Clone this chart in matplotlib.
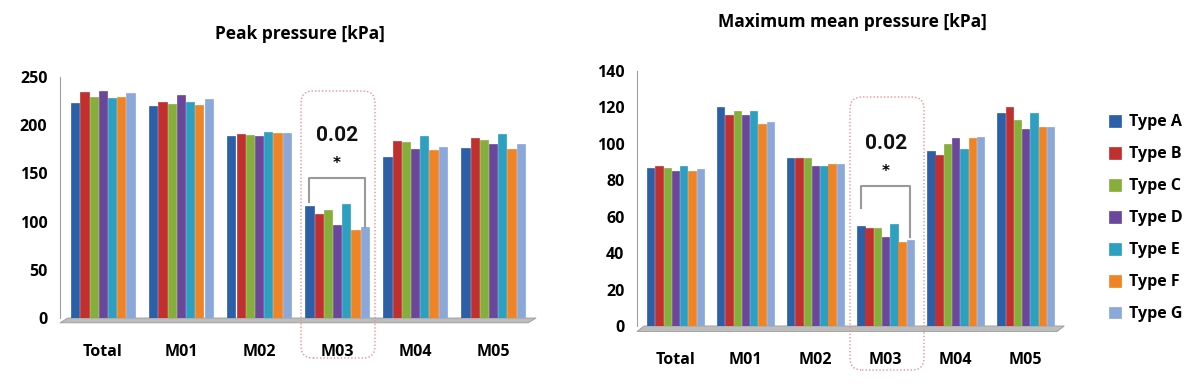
import numpy as np
import matplotlib.pyplot as plt
from matplotlib.patches import Polygon, FancyBboxPatch
from matplotlib.transforms import IdentityTransform

plt.rcParams['font.family'] = ['Open Sans', 'DejaVu Sans']

categories = ['Total', 'M01', 'M02', 'M03', 'M04', 'M05']
types = ['Type A', 'Type B', 'Type C', 'Type D', 'Type E', 'Type F', 'Type G']
colors = ['#2B5FA8', '#C0302F', '#86AE3A', '#6B479B', '#2D9FC0', '#F08424', '#8BA8DB']

# peak pressure [kPa], one list per type, values per category
peak = [
    [223, 220, 189, 116, 167, 176],
    [234, 224, 191, 108, 184, 187],
    [229, 222, 190, 112, 183, 185],
    [236, 231, 189, 96, 175, 180],
    [228, 224, 193, 118, 189, 191],
    [229, 221, 192, 91, 174, 175],
    [233, 227, 192, 94, 177, 180],
]

# maximum mean pressure [kPa]
mean_p = [
    [87, 120, 92, 55, 96, 117],
    [88, 116, 92, 54, 94, 120],
    [87, 118, 92, 54, 100, 113],
    [85, 116, 88, 49, 103, 108],
    [88, 118, 88, 56, 97, 117],
    [85, 111, 89, 46, 103, 109],
    [86, 112, 89, 47, 104, 109],
]

fig = plt.figure(figsize=(12, 3.89), dpi=100)

step = 0.118
width = 0.105
x = np.arange(len(categories))


def draw_panel(ax, data, ymax, yticks, floor_h, title, title_y):
    for i, vals in enumerate(data):
        ax.bar(x + (i - 3) * step, vals, width, color=colors[i],
               edgecolor=colors[i], linewidth=0.5, label=types[i], zorder=3)
    xmin, xmax = -0.55, 5.6
    ax.set_xlim(xmin, xmax)
    ax.set_ylim(0, ymax)
    floor = Polygon([(xmin, -floor_h), (xmin + 0.1, 0), (xmax - 0.05, 0), (xmax - 0.15, -floor_h)],
                    closed=True, facecolor='#BDBDBD', edgecolor='#9A9A9A', lw=0.6,
                    clip_on=False, zorder=2)
    ax.add_patch(floor)
    for s in ['top', 'right', 'bottom']:
        ax.spines[s].set_visible(False)
    ax.spines['left'].set_color('#A0A0A0')
    ax.set_yticks(yticks)
    ax.set_xticks(x)
    ax.set_xticklabels(categories)
    ax.tick_params(axis='y', length=0, pad=9, labelsize=11.5)
    ax.tick_params(axis='x', length=0, pad=19, labelsize=11.5)
    for lab in ax.get_xticklabels() + ax.get_yticklabels():
        lab.set_fontweight('bold')
    pos = ax.get_position()
    fig.text(pos.x0 + pos.width / 2, title_y, title,
             ha='center', va='center', fontsize=12.5, fontweight='bold')


ax1 = fig.add_axes([0.05, 0.1825, 0.40, 0.6195])
draw_panel(ax1, peak, 250, [0, 50, 100, 150, 200, 250], 5,
           'Peak pressure [kPa]', 1 - 34 / 389)

ax2 = fig.add_axes([0.5308, 0.162, 0.359, 0.6555])
draw_panel(ax2, mean_p, 140, [0, 20, 40, 60, 80, 100, 120, 140], 3,
           'Maximum mean pressure [kPa]', 1 - 22 / 389)

# significance brackets on M03 (Type A vs Type G)
xa = 3 - 3 * step
xg = 3 + 3 * step
ax1.plot([xa, xa, xg, xg], [120, 145, 145, 94], color='#999999', lw=1.5, zorder=4)
ax1.text(3, 189, '0.02', ha='center', va='center', fontsize=15, fontweight='bold',
         family='Roboto', color='#111111')
ax1.text(3, 160, '*', ha='center', va='center', fontsize=11, fontweight='bold',
         family='DejaVu Sans')
ax2.plot([xa, xa, xg, xg], [65, 77, 77, 49], color='#999999', lw=1.5, zorder=4)
ax2.text(3, 100, '0.02', ha='center', va='center', fontsize=15, fontweight='bold',
         family='Roboto', color='#111111')
ax2.text(3, 85, '*', ha='center', va='center', fontsize=11, fontweight='bold',
         family='DejaVu Sans')

# dotted highlight boxes around M03
H = 389
for (bx0, by0, bx1, by1) in [(301, 91, 375, 358), (850, 97, 924, 370)]:
    box = FancyBboxPatch((bx0, H - by1), bx1 - bx0, by1 - by0,
                         boxstyle='round,pad=0,rounding_size=12',
                         transform=IdentityTransform(), facecolor='none',
                         edgecolor='#F28B8B', lw=1.0, linestyle=(0, (1, 1.5)))
    fig.patches.append(box)

handles, labels = ax2.get_legend_handles_labels()
leg = fig.legend(handles, labels, loc='upper left', bbox_to_anchor=(1095 / 1200, 1 - 100 / 389),
                 frameon=False, handlelength=0.75, handleheight=0.75, handletextpad=0.5,
                 labelspacing=1.0, prop={'weight': 'bold', 'size': 11.5})

fig.savefig('out.png', dpi=100)
